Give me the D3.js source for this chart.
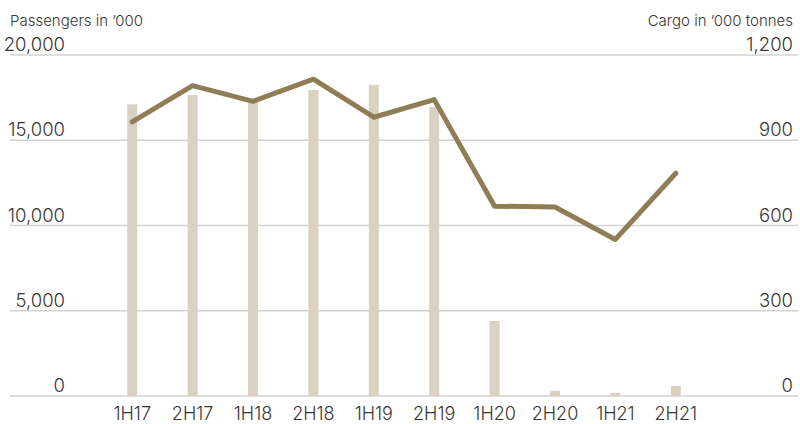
<!DOCTYPE html>
<meta charset="utf-8">
<style>
body { margin: 0; background: #fff; }
text { font-family: Inter, "Liberation Sans", sans-serif; font-weight: 300; fill: #3a3636; }
.grid line { stroke: #d3d3d3; stroke-width: 1.5; }
.bar { fill: #d9d1c1; }
.cargo { fill: none; stroke: #8f7e55; stroke-width: 5; stroke-linejoin: round; stroke-linecap: round; }
</style>
<svg width="800" height="424"></svg>
<script src="https://d3js.org/d3.v7.min.js"></script>
<script>

// half-years
var periods = ["1H17", "2H17", "1H18", "2H18", "1H19", "2H19", "1H20", "2H20", "1H21", "2H21"];

// passengers in '000 (bars, left axis)
var passengers = [17100, 17650, 17300, 17950, 18250, 16950, 4400, 300, 180, 590];

// cargo in '000 tonnes (line, right axis)
var cargo = [965, 1092, 1037, 1115, 981, 1043, 668, 665, 551, 784];

var leftTicks = [0, 5000, 10000, 15000, 20000];
var rightTicks = [0, 300, 600, 900, 1200];

var svg = d3.select("svg");

// plot area
var plotTop = 55, plotBottom = 396, plotLeft = 10, plotRight = 798;

var x = d3.scaleBand().domain(periods).range([102, 706]).padding(0);
var yL = d3.scaleLinear().domain([0, 20000]).range([plotBottom, plotTop]);
var yR = d3.scaleLinear().domain([0, 1200]).range([plotBottom, plotTop]);

// gridlines
svg.append("g").attr("class", "grid")
  .selectAll("line").data(leftTicks).enter().append("line")
  .attr("x1", plotLeft).attr("x2", plotRight)
  .attr("y1", function(d) { return yL(d); })
  .attr("y2", function(d) { return yL(d); });

// left tick labels
svg.append("g").selectAll("text").data(leftTicks).enter().append("text")
  .attr("x", 65).attr("y", function(d) { return yL(d) - 4; })
  .attr("text-anchor", "end").attr("font-size", 18.5)
  .text(function(d) { return d3.format(",")(d); });

// right tick labels
svg.append("g").selectAll("text").data(rightTicks).enter().append("text")
  .attr("x", 793).attr("y", function(d) { return yR(d) - 4; })
  .attr("text-anchor", "end").attr("font-size", 18.5)
  .text(function(d) { return d3.format(",")(d); });

// axis titles
svg.append("text").attr("x", 10).attr("y", 26).attr("font-size", 15)
  .text("Passengers in \u2019000");
svg.append("text").attr("x", 793).attr("y", 26).attr("font-size", 15)
  .attr("text-anchor", "end")
  .text("Cargo in \u2019000 tonnes");

// bars
var bw = 10;
svg.append("g").selectAll("rect").data(periods).enter().append("rect")
  .attr("class", "bar")
  .attr("x", function(d) { return x(d) + x.bandwidth() / 2 - bw / 2; })
  .attr("y", function(d, i) { return yL(passengers[i]); })
  .attr("width", bw)
  .attr("height", function(d, i) { return plotBottom - yL(passengers[i]); });

// cargo line
var line = d3.line()
  .x(function(d, i) { return x(periods[i]) + x.bandwidth() / 2; })
  .y(function(d) { return yR(d); });

svg.append("path").datum(cargo).attr("class", "cargo").attr("d", line);

// category labels
svg.append("g").selectAll("text").data(periods).enter().append("text")
  .attr("x", function(d) { return x(d) + x.bandwidth() / 2; })
  .attr("y", 420).attr("text-anchor", "middle").attr("font-size", 18)
  .text(function(d) { return d; });

</script>
